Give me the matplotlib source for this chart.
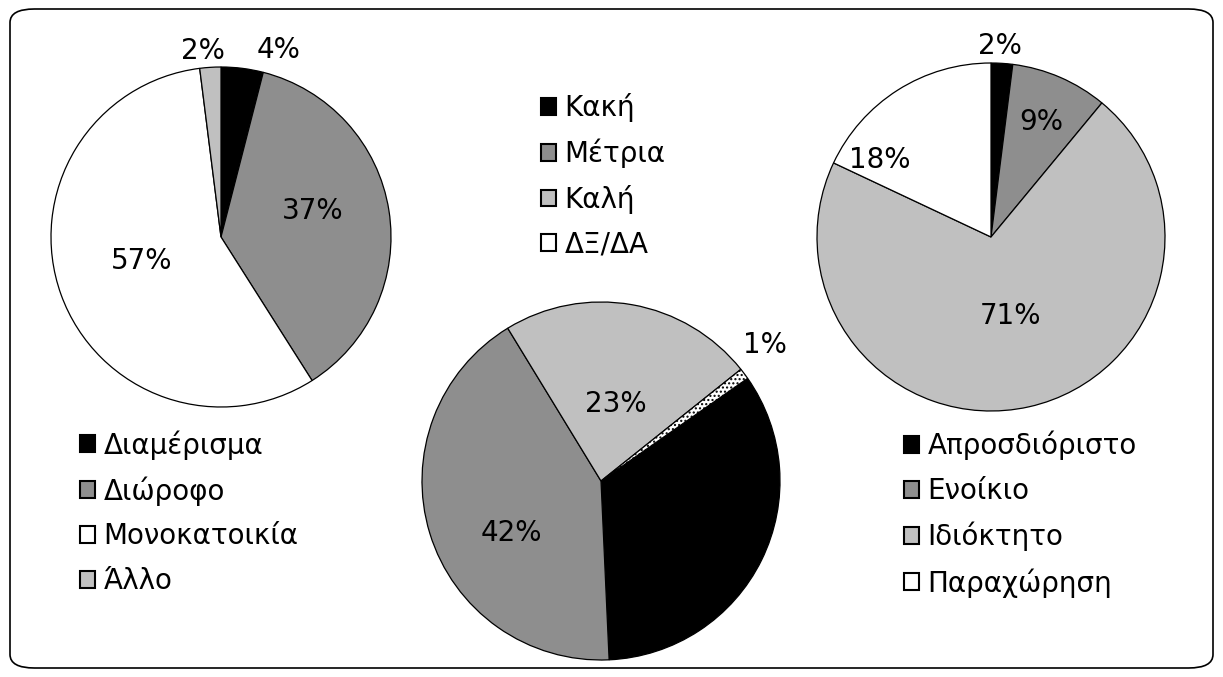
import matplotlib.pyplot as plt
import numpy as np
from matplotlib.patches import FancyBboxPatch

# left pie: housing type
house_labels = ['Διαμέρισμα', 'Διώροφο', 'Μονοκατοικία', 'Άλλο']
house_values = [4, 37, 57, 2]

# middle pie: condition
cond_labels = ['Κακή', 'Μέτρια', 'Καλή', 'ΔΞ/ΔΑ']
cond_values = [34, 42, 23, 1]

# right pie: ownership
own_labels = ['Απροσδιόριστο', 'Ενοίκιο', 'Ιδιόκτητο', 'Παραχώρηση']
own_values = [2, 9, 71, 18]

W, H = 1223, 677
black, gray, light, white = '#000000', '#8e8e8e', '#c0c0c0', '#ffffff'
fsize = 20

fig = plt.figure(figsize=(W / 100, H / 100), dpi=100)
ax = fig.add_axes([0, 0, 1, 1])

fig.patches.append(FancyBboxPatch((10 / W, 9 / H), 1203 / W, 659 / H,
                                  boxstyle='round,pad=0,rounding_size=0.02',
                                  transform=fig.transFigure, facecolor='white',
                                  edgecolor='black', linewidth=1.2, zorder=-1))


def draw_pie(values, colors, cx, cy, r, start, label_r, label_shift):
    wedges, _ = ax.pie(values, colors=colors, startangle=start,
                       counterclock=False, center=(cx, H - cy), radius=r,
                       wedgeprops=dict(edgecolor='black', linewidth=0.9),
                       frame=True)
    for w, v, lr, sh in zip(wedges, values, label_r, label_shift):
        mid = np.deg2rad((w.theta1 + w.theta2) / 2 + sh)
        ax.text(cx + lr * r * np.cos(mid), H - cy + lr * r * np.sin(mid),
                '{}%'.format(v), ha='center', va='center', fontsize=fsize)
    return wedges


w1 = draw_pie(house_values, [black, gray, white, light], 221, 237, 170, 90,
              [1.15, 0.56, 0.49, 1.10], [-10, 7, -3, 2])
w2 = draw_pie(cond_values, [black, gray, light, white], 601, 481, 179, 35,
              [0.55, 0.58, 0.44, 1.19], [20, 13, -1, 3])
w2[3].set_hatch('....')
w3 = draw_pie(own_values, [black, gray, light, white], 991, 237, 174, 90,
              [1.10, 0.72, 0.47, 0.78], [1, 0, 1, 23])

ax.set_xlim(0, W)
ax.set_ylim(0, H)
ax.set_aspect('equal')
ax.axis('off')


def add_legend(handles, labels, x, y):
    leg = fig.legend(handles, labels, loc='upper left',
                     bbox_to_anchor=(x / W, 1 - y / H), frameon=False,
                     fontsize=fsize, handlelength=0.55, handleheight=0.55,
                     handletextpad=0.3, labelspacing=0.6, borderpad=0,
                     borderaxespad=0)
    for hnd in leg.legend_handles:
        hnd.set_hatch(None)
        hnd.set_linewidth(1.5)
    return leg


add_legend(w1, house_labels, 80, 430)
add_legend(w2, cond_labels, 541, 93)
add_legend(w3, own_labels, 904, 431)

fig.savefig('out.png', dpi=100)
